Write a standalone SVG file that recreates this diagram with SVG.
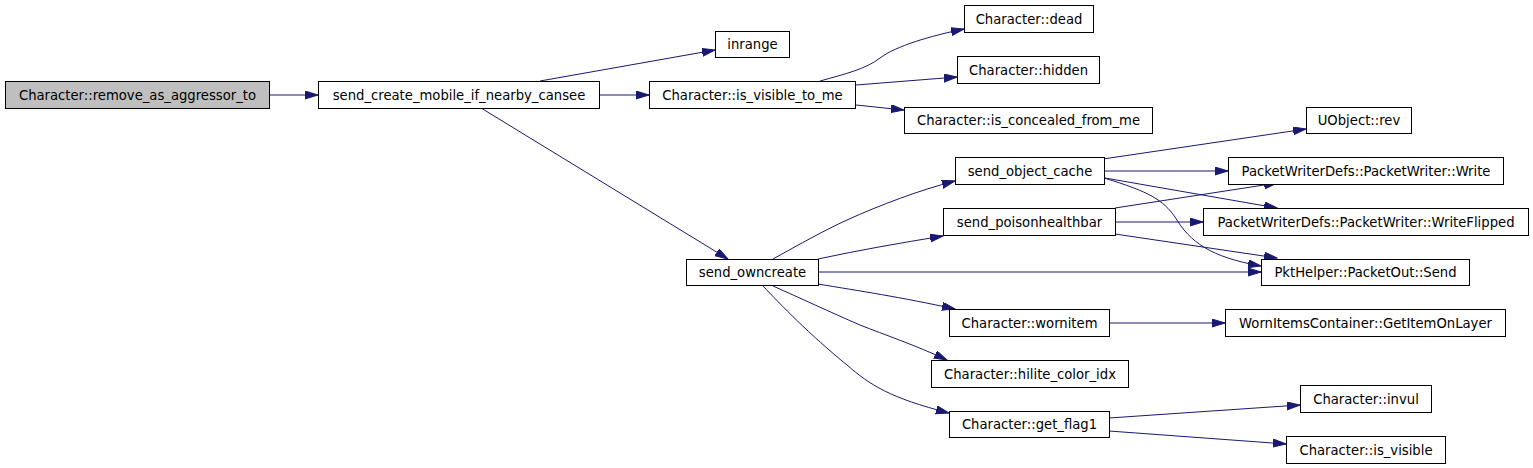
<svg xmlns="http://www.w3.org/2000/svg" width="1533" height="468" viewBox="0 0 1533 468">
<style>
.n rect{fill:#ffffff;stroke:#000000;stroke-width:1}
.n.root rect{fill:#bfbfbf}
.n text{font-family:"DejaVu Sans","Liberation Sans",sans-serif;font-size:13.2px;fill:#000000;text-anchor:middle}
.e path{fill:none;stroke:#191970;stroke-width:1;marker-end:url(#ah)}
</style>
<defs>
<marker id="ah" markerUnits="userSpaceOnUse" markerWidth="14" markerHeight="9" refX="13" refY="4" orient="auto">
<path d="M0,0 L13,4 L0,8 z" fill="#191970" stroke="#191970" stroke-width="1"/>
</marker>
</defs>
<rect x="0" y="0" width="1533" height="468" fill="#ffffff"/>
<g id="edges" class="e">
<path d="M269,95 L318,95"/>
<path d="M540,81 L715,50"/>
<path d="M599,95 L649,95"/>
<path d="M481,108 L728,259"/>
<path d="M820,81 C845,74 866,69 880,58 C896,46 930,36 964,29"/>
<path d="M856,85 L957,77"/>
<path d="M856,105 L904,110"/>
<path d="M1103,159 L1306,129"/>
<path d="M1104,171 L1228,171"/>
<path d="M1105,178 L1277,208"/>
<path d="M1104,178 C1150,192 1163,200 1175,217 C1190,242 1210,257 1261,266"/>
<path d="M1115,208 L1277,183"/>
<path d="M1115,222 L1203,222"/>
<path d="M1115,234 L1277,258"/>
<path d="M773,259 C800,244 825,230 847,220 C880,205 920,190 955,181"/>
<path d="M818,259 C860,250 900,243 943,236"/>
<path d="M818,272 L1261,272"/>
<path d="M818,284 C860,291 900,297 955,309"/>
<path d="M773,286 C800,298 830,312 860,325 C885,335 915,345 947,360"/>
<path d="M763,286 C780,304 810,335 847,365 C870,385 890,398 949,413"/>
<path d="M1109,323 L1225,323"/>
<path d="M1109,418 L1300,405"/>
<path d="M1109,431 L1286,444"/>
</g>
<g id="n_remove" class="n root"><rect x="5.5" y="81.5" width="264" height="27"/><text x="137.5" y="99.5">Character::remove_as_aggressor_to</text></g>
<g id="n_sendcreate" class="n"><rect x="318.5" y="81.5" width="281" height="27"/><text x="459" y="99.5">send_create_mobile_if_nearby_cansee</text></g>
<g id="n_inrange" class="n"><rect x="715.5" y="31.5" width="74" height="26"/><text x="752.5" y="49">inrange</text></g>
<g id="n_isvisibletome" class="n"><rect x="649.5" y="81.5" width="206" height="27"/><text x="752.5" y="99.5">Character::is_visible_to_me</text></g>
<g id="n_dead" class="n"><rect x="964.5" y="5.5" width="129" height="27"/><text x="1029" y="23.5">Character::dead</text></g>
<g id="n_hidden" class="n"><rect x="957.5" y="56.5" width="142" height="27"/><text x="1028.5" y="74.5">Character::hidden</text></g>
<g id="n_concealed" class="n"><rect x="904.5" y="107.5" width="248" height="26"/><text x="1028.5" y="125">Character::is_concealed_from_me</text></g>
<g id="n_rev" class="n"><rect x="1306.5" y="107.5" width="105" height="26"/><text x="1359" y="125">UObject::rev</text></g>
<g id="n_objcache" class="n"><rect x="955.5" y="157.5" width="149" height="27"/><text x="1030" y="175.5">send_object_cache</text></g>
<g id="n_write" class="n"><rect x="1228.5" y="157.5" width="275" height="27"/><text x="1366" y="175.5">PacketWriterDefs::PacketWriter::Write</text></g>
<g id="n_poison" class="n"><rect x="943.5" y="208.5" width="172" height="27"/><text x="1029.5" y="226.5">send_poisonhealthbar</text></g>
<g id="n_writeflipped" class="n"><rect x="1203.5" y="208.5" width="325" height="27"/><text x="1366" y="226.5">PacketWriterDefs::PacketWriter::WriteFlipped</text></g>
<g id="n_send" class="n"><rect x="1261.5" y="259.5" width="208" height="26"/><text x="1365.5" y="277">PktHelper::PacketOut::Send</text></g>
<g id="n_owncreate" class="n"><rect x="686.5" y="259.5" width="132" height="26"/><text x="752.5" y="277">send_owncreate</text></g>
<g id="n_wornitem" class="n"><rect x="949.5" y="309.5" width="160" height="27"/><text x="1029.5" y="327.5">Character::wornitem</text></g>
<g id="n_getitem" class="n"><rect x="1225.5" y="309.5" width="280" height="27"/><text x="1365.5" y="327.5">WornItemsContainer::GetItemOnLayer</text></g>
<g id="n_hilite" class="n"><rect x="931.5" y="360.5" width="197" height="27"/><text x="1030" y="378.5">Character::hilite_color_idx</text></g>
<g id="n_getflag1" class="n"><rect x="949.5" y="411.5" width="160" height="26"/><text x="1029.5" y="429">Character::get_flag1</text></g>
<g id="n_invul" class="n"><rect x="1300.5" y="385.5" width="131" height="27"/><text x="1366" y="403.5">Character::invul</text></g>
<g id="n_isvisible" class="n"><rect x="1286.5" y="436.5" width="159" height="27"/><text x="1366" y="454.5">Character::is_visible</text></g>
</svg>
